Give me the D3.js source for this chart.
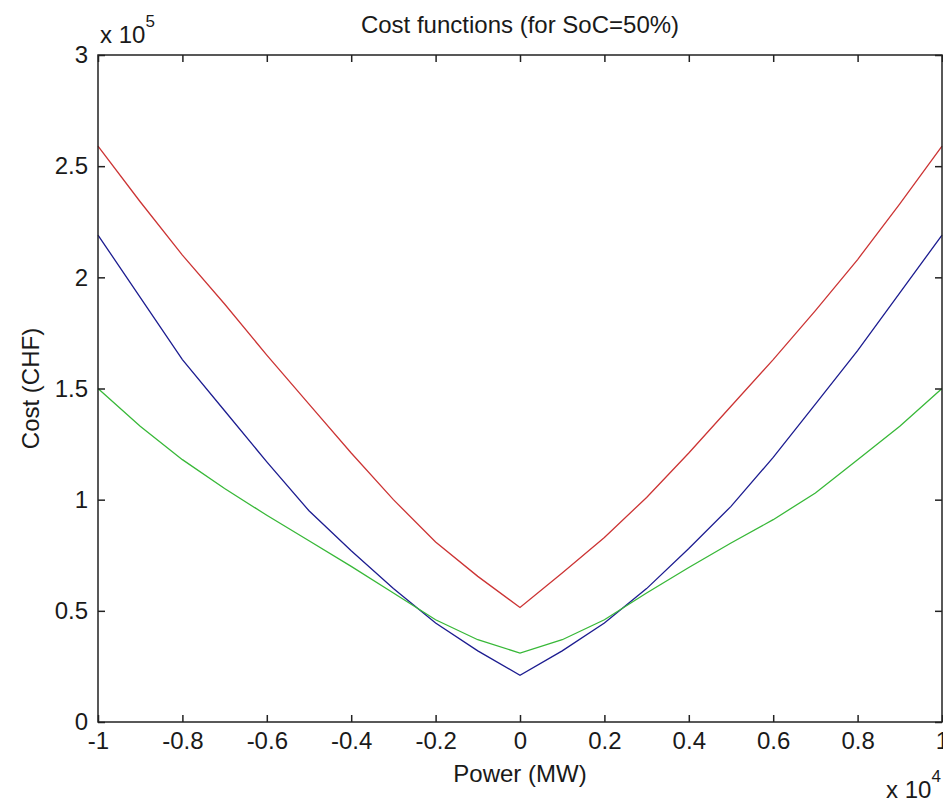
<html>
<head>
    <style>
        body {
            margin: 0;
            background: white;
            font-family: "Liberation Sans", Arial, Helvetica, sans-serif;
        }
        svg {
            display: block;
        }
        text {
            fill: #1a1a1a;
        }
    </style>
    <script src="https://cdn.jsdelivr.net/npm/d3@7"></script>
</head>
<body>
  <svg id="chart"></svg>
</body>
<script>
// power in units of 1e4 MW, cost in units of 1e5 CHF
let power = [-1, -0.9, -0.8, -0.7, -0.6, -0.5, -0.4, -0.3, -0.2, -0.1, 0,
             0.1, 0.2, 0.3, 0.4, 0.5, 0.6, 0.7, 0.8, 0.9, 1]
let costRed = [2.59, 2.34, 2.10, 1.88, 1.65, 1.43, 1.21, 1.00, 0.81, 0.655, 0.515,
               0.67, 0.83, 1.01, 1.21, 1.42, 1.63, 1.85, 2.08, 2.33, 2.59]
let costBlue = [2.19, 1.91, 1.63, 1.40, 1.17, 0.95, 0.77, 0.60, 0.445, 0.32, 0.21,
                0.32, 0.445, 0.60, 0.78, 0.97, 1.19, 1.43, 1.67, 1.93, 2.19]
let costGreen = [1.50, 1.33, 1.18, 1.05, 0.93, 0.815, 0.70, 0.58, 0.46, 0.37, 0.31,
                 0.37, 0.46, 0.58, 0.695, 0.805, 0.91, 1.03, 1.18, 1.33, 1.50]

let xTicks = [-1, -0.8, -0.6, -0.4, -0.2, 0, 0.2, 0.4, 0.6, 0.8, 1]
let yTicks = [0, 0.5, 1, 1.5, 2, 2.5, 3]

let width = 943
let height = 802
let mLeft = 98, mRight = 942, mTop = 55, mBottom = 722

let svg = d3.select("#chart")
    .attr("width", width)
    .attr("height", height)

let x = d3.scaleLinear().domain([-1, 1]).range([mLeft, mRight])
let y = d3.scaleLinear().domain([0, 3]).range([mBottom, mTop])

let fmt = d => String(+d.toFixed(1))

// curves
let series = [
  {values: costBlue, color: "#1c1c90"},
  {values: costGreen, color: "#38b838"},
  {values: costRed, color: "#cc3434"}
]
let line = d3.line()
    .x((d, i) => x(power[i]))
    .y(d => y(d))

svg.selectAll("path.curve").data(series)
    .enter().append("path")
    .attr("class", "curve")
    .attr("d", d => line(d.values))
    .attr("fill", "none")
    .attr("stroke", d => d.color)
    .attr("stroke-width", 1.3)

// axes, ticks pointing inside
function styleAxis(g) {
  g.select(".domain").remove()
  g.selectAll("line").attr("stroke", "#222").attr("stroke-width", 1.5)
  g.selectAll("text")
    .attr("font-size", 24)
    .attr("font-family", "Liberation Sans, Arial, sans-serif")
    .attr("fill", "#1a1a1a")
}

svg.append("g")
    .attr("transform", `translate(0,${mBottom})`)
    .call(d3.axisBottom(x).tickValues(xTicks).tickSize(-7).tickPadding(10).tickFormat(fmt))
    .call(styleAxis)

svg.append("g")
    .attr("transform", `translate(0,${mTop})`)
    .call(d3.axisTop(x).tickValues(xTicks).tickSize(-7).tickFormat(""))
    .call(styleAxis)

svg.append("g")
    .attr("transform", `translate(${mLeft},0)`)
    .call(d3.axisLeft(y).tickValues(yTicks).tickSize(-7).tickPadding(10).tickFormat(fmt))
    .call(styleAxis)

svg.append("g")
    .attr("transform", `translate(${mRight},0)`)
    .call(d3.axisRight(y).tickValues(yTicks).tickSize(-7).tickFormat(""))
    .call(styleAxis)

svg.append("rect")
    .attr("x", mLeft)
    .attr("y", mTop)
    .attr("width", mRight - mLeft)
    .attr("height", mBottom - mTop)
    .attr("fill", "none")
    .attr("stroke", "#222")
    .attr("stroke-width", 1.5)

// labels
svg.append("text")
    .attr("x", (mLeft + mRight) / 2)
    .attr("y", 33)
    .attr("text-anchor", "middle")
    .attr("font-size", 24)
    .text("Cost functions (for SoC=50%)")

svg.append("text")
    .attr("x", (mLeft + mRight) / 2)
    .attr("y", 782)
    .attr("text-anchor", "middle")
    .attr("font-size", 24)
    .text("Power (MW)")

svg.append("text")
    .attr("transform", `translate(39,${(mTop + mBottom) / 2}) rotate(-90)`)
    .attr("text-anchor", "middle")
    .attr("font-size", 24)
    .text("Cost (CHF)")

// exponent labels
let yExp = svg.append("text")
    .attr("x", 100)
    .attr("y", 43)
    .attr("font-size", 24)
yExp.append("tspan").text("x 10")
yExp.append("tspan").attr("dy", -16).attr("font-size", 17).text("5")

let xExp = svg.append("text")
    .attr("x", 886)
    .attr("y", 798)
    .attr("font-size", 24)
xExp.append("tspan").text("x 10")
xExp.append("tspan").attr("dy", -16).attr("font-size", 17).text("4")
</script>
</html>
